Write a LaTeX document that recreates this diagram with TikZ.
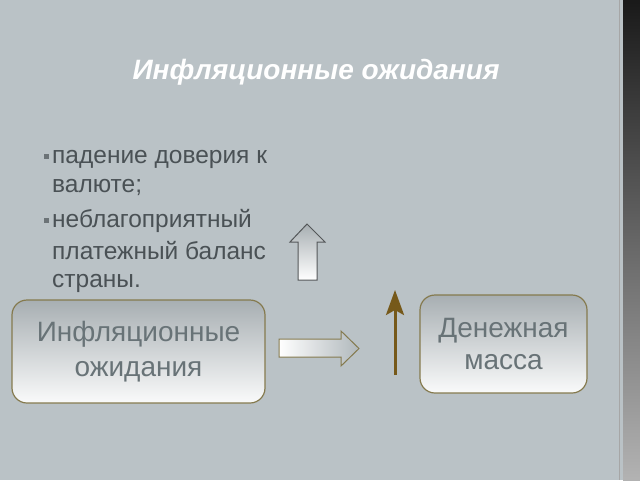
\documentclass[tikz,border=0pt]{standalone}
\usepackage{fontspec}
\setmainfont{Liberation Sans}
\usetikzlibrary{arrows.meta}
\definecolor{bg}{HTML}{BAC2C6}
\definecolor{boxborder}{HTML}{857A4E}
\definecolor{boxtext}{HTML}{687377}
\definecolor{bultext}{HTML}{4A5155}
\definecolor{brown}{HTML}{76591A}
\tikzset{
  pbox/.style={draw=boxborder, line width=1.2pt, rounded corners=15pt, top color=bg!90!black, bottom color=white!92!bg, inner sep=0pt},
  boxlabel/.style={text=boxtext, font=\fontsize{28}{34}\selectfont, align=center},
  bline/.style={anchor=base west, text=bultext, font=\fontsize{24.5}{28}\selectfont, inner sep=0pt},
  bullet/.style={fill=bultext!70!bg, minimum size=5pt, inner sep=0pt},
  blockarrow/.style={line width=1pt, line join=miter},
}
\begin{document}
\begin{tikzpicture}[x=1pt,y=-1pt]
\fill[bg] (0,0) rectangle (640,480);
\useasboundingbox (0,0) rectangle (640,480);
% right decorative strip
\shade[top color=black!90, bottom color=black!30] (623,0) rectangle (640,480);
\draw[black!35, line width=0.8pt] (619.5,0) -- (619.5,480);
% title
\node[text=white, font=\fontsize{28}{32}\selectfont\bfseries\itshape] (title) at (316,72) {Инфляционные ожидания};
% bullets
\node[bullet] (b1) at (46.5,156) {};
\node[bline] (l1) at (52,163) {падение доверия к};
\node[bline] (l2) at (52,192) {валюте;};
\node[bullet] (b2) at (46.5,220) {};
\node[bline] (l3) at (52,227) {неблагоприятный};
\node[bline] (l4) at (52,259) {платежный баланс};
\node[bline] (l5) at (52,287) {страны.};
% boxes
\node[pbox, minimum width=253pt, minimum height=103pt] (left) at (138.5,351.5) {};
\node[boxlabel] (lefttext) at (left.center) {Инфляционные\\[1pt]ожидания};
\node[pbox, minimum width=167pt, minimum height=98pt] (right) at (503.5,344) {};
\node[boxlabel] (righttext) at (right.center) {Денежная\\[-2pt]масса};
% block arrow up
\path[blockarrow, draw=black!55!bg, top color=bg!90!black, bottom color=white]
  (298,280) -- (298,242) -- (290,242) -- (307,224) -- (325,242) -- (317,242) -- (317,280) -- cycle;
% block arrow right
\path[blockarrow, draw=boxborder, left color=white, right color=bg!95!black]
  (279,339) -- (341,339) -- (341,331) -- (359,348.5) -- (341,366) -- (341,357) -- (279,357) -- cycle;
% brown arrow
\coordinate (bs) at (395,375);
\coordinate (be) at (395,290);
\draw[brown, line width=3pt, -{Stealth[length=25pt, width=18pt, inset=5pt]}] (bs) -- (be);
\end{tikzpicture}
\end{document}
